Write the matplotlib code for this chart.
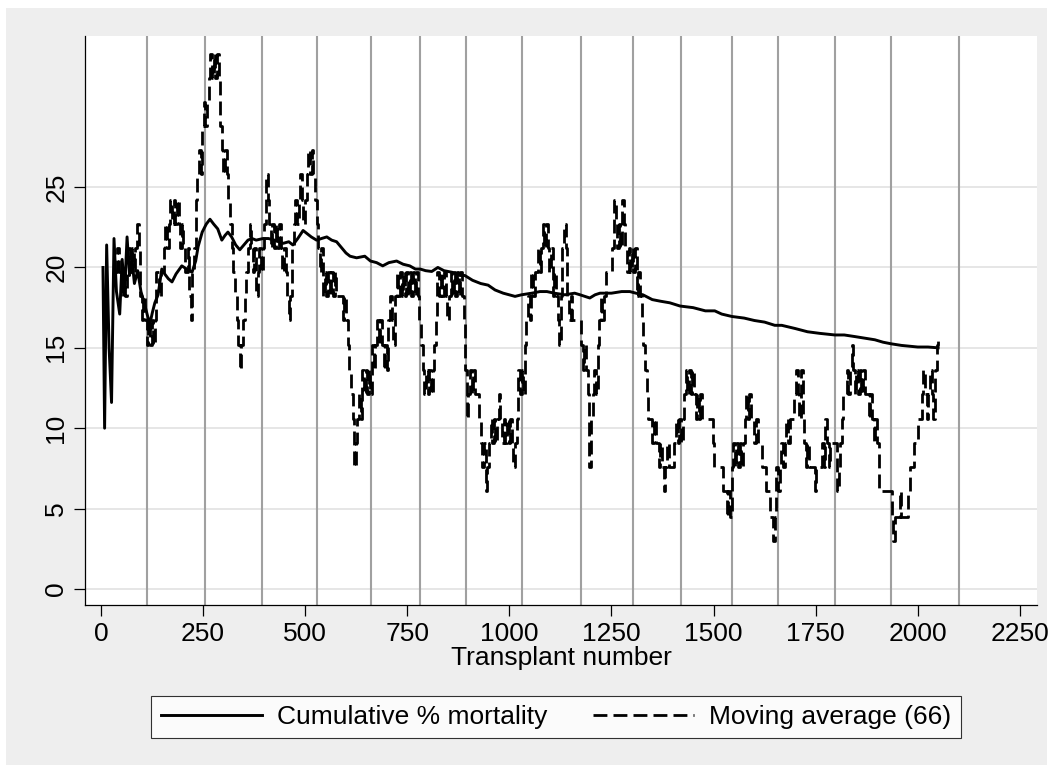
import matplotlib
matplotlib.use("Agg")
import matplotlib.pyplot as plt
from matplotlib.patches import Rectangle

plt.rcParams['font.family'] = ['Liberation Sans', 'DejaVu Sans']

# cumulative % mortality
cum_x = [5, 9, 14, 20, 26, 32, 38, 46, 52, 58, 64, 70, 76, 82, 90, 98, 106, 114, 120, 126,
         132, 140, 149, 156, 165, 174, 184, 198, 210, 223, 232, 238, 248, 258, 267, 276, 286,
         296, 304, 311, 320, 330, 340, 350, 360, 370, 380, 397, 410, 425, 446, 460, 470, 482,
         495, 505, 515, 528, 540, 553, 565, 577, 590, 600, 610, 626, 646, 660, 675, 690, 705,
         724, 740, 756, 770, 782, 795, 810, 825, 840, 860, 879, 891, 910, 930, 948, 965, 985,
         1000, 1014, 1030, 1055, 1075, 1092, 1110, 1136, 1160, 1173, 1185, 1197, 1210, 1222,
         1250, 1275, 1295, 1310, 1327, 1350, 1370, 1393, 1418, 1450, 1480, 1503, 1520, 1545,
         1575, 1600, 1625, 1650, 1667, 1700, 1730, 1760, 1797, 1820, 1846, 1870, 1895, 1915,
         1935, 1960, 1980, 2000, 2025, 2050]
cum_pct = [20.0, 10.0, 21.4, 15.0, 11.6, 21.8, 18.5, 17.1, 20.5, 18.5, 21.9, 19.5, 20.5, 19.0,
           19.8, 18.5, 17.8, 17.0, 16.5, 17.2, 17.8, 18.3, 19.9, 19.6, 19.3, 19.1, 19.6, 20.1,
           19.9, 19.7, 20.4, 21.3, 22.2, 22.7, 23.0, 22.7, 22.4, 21.7, 22.0, 22.2, 21.9, 21.4,
           21.1, 21.4, 21.7, 21.8, 21.7, 21.8, 21.8, 21.7, 21.5, 21.6, 21.4, 21.8, 22.3, 22.1,
           21.9, 21.7, 21.8, 21.9, 21.7, 21.6, 21.2, 20.9, 20.7, 20.6, 20.7, 20.4, 20.3, 20.1,
           20.3, 20.4, 20.2, 20.1, 19.9, 19.9, 19.8, 19.75, 20.0, 19.8, 19.7, 19.5, 19.5, 19.2,
           19.0, 18.9, 18.6, 18.4, 18.3, 18.2, 18.3, 18.4, 18.5, 18.5, 18.4, 18.3, 18.4, 18.3,
           18.2, 18.1, 18.3, 18.4, 18.4, 18.5, 18.5, 18.4, 18.3, 18.0, 17.9, 17.8, 17.6, 17.5,
           17.3, 17.3, 17.1, 16.95, 16.85, 16.7, 16.6, 16.4, 16.4, 16.2, 16.0, 15.9, 15.8, 15.8,
           15.7, 15.6, 15.5, 15.35, 15.25, 15.15, 15.1, 15.05, 15.05, 15.0]

# moving average over 66 transplants, % mortality (step values)
ma_x = [34, 40, 45, 50, 55, 60, 64, 68, 72, 76, 80, 84, 88, 92, 96, 100, 104, 108, 112, 116,
        120, 124, 128, 132, 136, 142, 148, 154, 158, 162, 166, 170, 174, 178, 182, 186, 190,
        194, 198, 202, 206, 212, 216, 220, 224, 228, 232, 236, 240, 244, 248, 252, 256, 260,
        264, 268, 272, 276, 280, 284, 288, 292, 296, 300, 304, 308, 312, 316, 320, 324, 328,
        332, 336, 340, 344, 348, 352, 356, 360, 364, 368, 372, 376, 380, 384, 388, 392, 396,
        400, 404, 408, 412, 416, 420, 424, 428, 432, 436, 440, 444, 448, 452, 456, 460, 464,
        468, 472, 476, 480, 484, 488, 492, 496, 500, 504, 508, 512, 516, 520, 524, 528, 532,
        536, 540, 544, 548, 552, 556, 560, 564, 568, 572, 576, 586, 592, 596, 600, 604, 608,
        612, 616, 620, 624, 628, 632, 636, 640, 644, 648, 652, 656, 660, 664, 668, 672, 676,
        680, 684, 688, 692, 696, 700, 704, 708, 712, 716, 720, 724, 728, 732, 736, 740, 744,
        748, 752, 756, 760, 764, 768, 772, 776, 780, 784, 788, 792, 796, 800, 804, 808, 812,
        816, 820, 824, 828, 832, 836, 840, 844, 848, 852, 856, 860, 864, 868, 872, 876, 880,
        884, 888, 892, 896, 900, 904, 908, 912, 916, 926, 930, 934, 938, 942, 946, 950, 954,
        958, 962, 966, 970, 974, 978, 982, 986, 990, 994, 998, 1002, 1006, 1010, 1014, 1018,
        1022, 1026, 1030, 1034, 1038, 1042, 1046, 1050, 1054, 1058, 1062, 1070, 1074, 1078,
        1082, 1086, 1090, 1094, 1098, 1102, 1106, 1110, 1114, 1118, 1122, 1126, 1130, 1134,
        1138, 1142, 1146, 1150, 1154, 1176, 1180, 1184, 1188, 1192, 1196, 1200, 1204, 1208,
        1212, 1216, 1220, 1224, 1228, 1232, 1236, 1252, 1256, 1260, 1264, 1268, 1272, 1276,
        1280, 1284, 1288, 1292, 1296, 1300, 1304, 1308, 1312, 1316, 1320, 1324, 1328, 1332,
        1336, 1340, 1350, 1354, 1358, 1366, 1370, 1374, 1378, 1382, 1386, 1390, 1404, 1408,
        1412, 1416, 1420, 1424, 1428, 1432, 1436, 1440, 1444, 1448, 1452, 1456, 1460, 1464,
        1468, 1472, 1498, 1502, 1524, 1532, 1536, 1540, 1544, 1548, 1552, 1556, 1560, 1564,
        1568, 1572, 1576, 1580, 1584, 1588, 1592, 1600, 1604, 1608, 1618, 1628, 1638, 1646,
        1650, 1654, 1658, 1662, 1666, 1670, 1674, 1678, 1682, 1686, 1698, 1702, 1706, 1710,
        1714, 1718, 1722, 1726, 1730, 1734, 1748, 1752, 1766, 1770, 1774, 1778, 1782, 1786,
        1802, 1806, 1810, 1814, 1818, 1826, 1830, 1834, 1838, 1842, 1846, 1850, 1854, 1858,
        1862, 1866, 1870, 1880, 1884, 1888, 1892, 1896, 1900, 1904, 1936, 1940, 1944, 1956,
        1960, 1976, 1980, 1990, 2000, 2010, 2014, 2018, 2022, 2026, 2030, 2034, 2038, 2042,
        2046, 2050]
ma_pct = [19.7, 21.2, 19.7, 18.2, 19.7, 18.2, 19.7, 21.2, 19.7, 21.2, 19.7, 21.2, 22.7, 21.2,
          18.2, 16.7, 18.2, 16.7, 15.2, 16.7, 15.2, 16.7, 15.2, 16.7, 19.7, 18.2, 19.7, 21.2,
          22.7, 21.2, 22.7, 24.2, 22.7, 24.2, 22.7, 24.2, 22.7, 21.2, 22.7, 21.2, 19.7, 21.2,
          18.2, 16.7, 19.7, 21.2, 24.2, 25.8, 27.3, 25.8, 28.8, 30.3, 28.8, 30.3, 31.8, 33.3,
          31.8, 33.3, 31.8, 33.3, 31.8, 28.8, 27.3, 25.8, 27.3, 25.8, 24.2, 22.7, 21.2, 19.7,
          18.2, 16.7, 15.2, 13.6, 15.2, 16.7, 18.2, 19.7, 21.2, 22.7, 21.2, 19.7, 21.2, 18.2,
          19.7, 21.2, 19.7, 21.2, 22.7, 25.8, 24.2, 22.7, 21.2, 22.7, 21.2, 22.7, 21.2, 22.7,
          21.2, 19.7, 21.2, 19.7, 18.2, 16.7, 18.2, 21.2, 22.7, 24.2, 22.7, 24.2, 25.8, 24.2,
          22.7, 24.2, 25.8, 27.3, 25.8, 27.3, 25.8, 24.2, 22.7, 21.2, 19.7, 21.2, 18.2, 19.7,
          18.2, 19.7, 18.2, 19.7, 18.2, 19.7, 18.2, 18.2, 16.7, 18.2, 16.7, 15.2, 13.6, 12.1,
          10.6, 7.6, 9.1, 10.6, 12.1, 10.6, 13.6, 12.1, 13.6, 12.1, 13.6, 12.1, 15.2, 13.6,
          15.2, 16.7, 15.2, 16.7, 15.2, 13.6, 15.2, 13.6, 16.7, 18.2, 16.7, 15.2, 18.2, 19.7,
          18.2, 19.7, 18.2, 19.7, 18.2, 19.7, 18.2, 19.7, 18.2, 19.7, 18.2, 19.7, 18.2, 16.7,
          15.2, 13.6, 12.1, 13.6, 12.1, 13.6, 12.1, 13.6, 15.2, 16.7, 19.7, 18.2, 19.7, 18.2,
          19.7, 18.2, 16.7, 18.2, 19.7, 18.2, 19.7, 18.2, 19.7, 18.2, 19.7, 18.2, 16.7, 13.6,
          10.6, 12.1, 13.6, 12.1, 13.6, 12.1, 10.6, 9.1, 7.6, 9.1, 6.1, 7.6, 9.1, 10.6, 9.1,
          10.6, 9.1, 10.6, 12.1, 10.6, 9.1, 10.6, 9.1, 10.6, 9.1, 10.6, 9.1, 7.6, 9.1, 10.6,
          13.6, 12.1, 13.6, 12.1, 15.2, 16.7, 18.2, 16.7, 19.7, 18.2, 19.7, 21.2, 19.7, 21.2,
          22.7, 21.2, 22.7, 21.2, 19.7, 21.2, 18.2, 19.7, 18.2, 16.7, 15.2, 18.2, 21.2, 22.7,
          21.2, 18.2, 16.7, 18.2, 16.7, 15.2, 13.6, 15.2, 13.6, 12.1, 7.6, 10.6, 12.1, 13.6,
          12.1, 15.2, 16.7, 18.2, 16.7, 18.2, 19.7, 21.2, 24.2, 22.7, 21.2, 22.7, 21.2, 24.2,
          22.7, 21.2, 19.7, 21.2, 19.7, 21.2, 19.7, 21.2, 18.2, 19.7, 18.2, 16.7, 15.2, 13.6,
          12.1, 10.6, 9.1, 10.6, 9.1, 7.6, 9.1, 7.6, 6.1, 7.6, 9.1, 7.6, 9.1, 10.6, 9.1, 10.6,
          9.1, 10.6, 12.1, 13.6, 12.1, 13.6, 12.1, 13.6, 12.1, 10.6, 12.1, 10.6, 12.1, 10.6,
          9.1, 7.6, 6.1, 4.5, 6.1, 4.5, 7.6, 9.1, 7.6, 9.1, 7.6, 9.1, 7.6, 9.1, 10.6, 12.1,
          10.6, 12.1, 10.6, 9.1, 10.6, 9.1, 7.6, 6.1, 4.5, 3.0, 4.5, 7.6, 6.1, 7.6, 9.1, 7.6,
          9.1, 10.6, 9.1, 10.6, 12.1, 13.6, 12.1, 10.6, 13.6, 10.6, 9.1, 7.6, 9.1, 7.6, 6.1,
          7.6, 9.1, 7.6, 10.6, 9.1, 7.6, 9.1, 6.1, 7.6, 9.1, 10.6, 12.1, 13.6, 12.1, 13.6,
          15.2, 13.6, 12.1, 13.6, 12.1, 13.6, 12.1, 13.6, 12.1, 10.6, 12.1, 10.6, 9.1, 10.6,
          9.1, 6.1, 4.5, 3.0, 4.5, 6.1, 4.5, 6.1, 7.6, 9.1, 10.6, 12.1, 13.6, 12.1, 10.6,
          12.1, 13.6, 12.1, 10.6, 13.6, 15.2, 15.7]

# gray reference lines (period boundaries)
period_breaks = [112, 255, 395, 529, 662, 782, 895, 1030, 1175, 1303, 1420, 1546, 1658,
                 1797, 1935, 2102]

x_ticks = [0, 250, 500, 750, 1000, 1250, 1500, 1750, 2000, 2250]
y_ticks = [0, 5, 10, 15, 20, 25]

fig = plt.figure(figsize=(10.53, 7.73), dpi=100, facecolor='white')
fig.patches.append(Rectangle((6 / 1053, 1 - 765 / 773), 1041 / 1053, 757 / 773,
                             transform=fig.transFigure, facecolor='#eeeeee',
                             edgecolor='none', zorder=-1))
ax = fig.add_axes([85 / 1053, 1 - 605 / 773, 952 / 1053, 569 / 773])
ax.set_facecolor('white')

for yv in y_ticks:
    ax.axhline(yv, color='#e6e6e6', lw=1.4, zorder=1)
for xv in period_breaks:
    ax.axvline(xv, color='#a0a0a0', lw=1.5, zorder=2)

ax.plot(cum_x, cum_pct, color='black', lw=2.1, zorder=3,
        label='Cumulative % mortality')
ax.plot(ma_x, ma_pct, color='black', lw=2.0, ls=(0, (5, 2.2)), drawstyle='steps-post',
        zorder=4, label='Moving average (66)')

ax.set_xlim(-39, 2292)
ax.set_ylim(-1, 34.4)
ax.set_xticks(x_ticks)
ax.set_yticks(y_ticks)
ax.tick_params(axis='both', direction='out', length=8, width=0.9, labelsize=19, pad=4)
ax.tick_params(axis='y', labelrotation=90)
for lab in ax.get_yticklabels():
    lab.set_va('center')

for s in ['top', 'right']:
    ax.spines[s].set_visible(False)
for s in ['left', 'bottom']:
    ax.spines[s].set_linewidth(0.9)

ax.set_xlabel('Transplant number', fontsize=19, labelpad=0)

leg = fig.legend(loc='center', bbox_to_anchor=(556 / 1053, 1 - 717 / 773), ncol=2,
                 fontsize=19, frameon=True, fancybox=False, edgecolor='black',
                 handlelength=3.85, handletextpad=0.57, columnspacing=1.7,
                 borderpad=0.35, borderaxespad=0)
leg.get_frame().set_linewidth(0.8)

fig.savefig('out.png', dpi=100, facecolor=fig.get_facecolor())
